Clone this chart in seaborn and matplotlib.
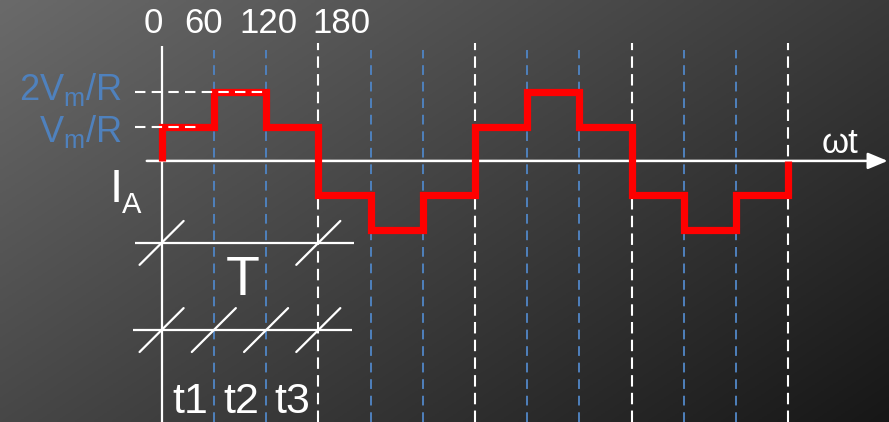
import numpy as np
import matplotlib
matplotlib.use("Agg")
import matplotlib.pyplot as plt
import seaborn as sns

# waveform of phase current I_A (units of Vm/R) vs angle in degrees
angle = [0, 0, 60, 120, 180, 240, 300, 360, 420, 480, 540, 600, 660, 720, 720]
level = [0, 1, 2, 1, -1, -2, -1, 1, 2, 1, -1, -2, -1, -1, 0]

half_cycles = [180, 360, 540, 720]
sixths = [60, 120, 240, 300, 420, 480, 600, 660]
top_labels = ["0", "60", "120", "180"]
y_labels = [r"2V$_{\rm m}$/R", r"V$_{\rm m}$/R"]
t_labels = ["t1", "t2", "t3"]

sns.set_style("dark")
plt.rcParams["font.family"] = ["Liberation Sans", "DejaVu Sans"]
plt.rcParams["mathtext.fontset"] = "custom"
plt.rcParams["mathtext.rm"] = "Liberation Sans"
plt.rcParams["mathtext.it"] = "Liberation Sans"
plt.rcParams["mathtext.default"] = "rm"

WHITE = "white"
BLUE = "#4f81bd"
RED = "#ff0000"

fig = plt.figure(figsize=(8.89, 4.22), dpi=100)
ax = fig.add_axes([0, 0, 1, 1])
x0, x1 = -185.6, 835.5
y0, y1 = -7.61, 4.69
ax.set_xlim(x0, x1)
ax.set_ylim(y0, y1)
ax.axis("off")

# dark diagonal gradient background
xn = np.linspace(0, 1, 300)
yn = np.linspace(0, 1, 150)
XX, YY = np.meshgrid(xn, yn)
g = (106 - 48 * XX - 35 * YY) / 255.0
bg = np.dstack([g, g, g])
ax.imshow(bg, extent=(x0, x1, y0, y1), aspect="auto", zorder=0, origin="upper")

# axes of the sketch
ax.vlines(0, y0, 3.35, color=WHITE, lw=1.6, zorder=2)
ax.annotate("", xy=(834, 0), xytext=(-17, 0),
            arrowprops=dict(arrowstyle="-|>,head_length=1.2,head_width=0.5",
                            color=WHITE, lw=1.8, shrinkA=0, shrinkB=0), zorder=2)

# dashed guides
ax.vlines(half_cycles, y0, 3.44, color=WHITE, lw=1.5, linestyles=[(0, (5.5, 3))], zorder=2)
ax.vlines(sixths, y0, 3.24, color=BLUE, lw=1.4, linestyles=[(0, (5, 3.5))], zorder=2)

# red stepped current
sns.lineplot(x=angle, y=level, ax=ax, color=RED, lw=5.2, sort=False, estimator=None,
             drawstyle="steps-post", zorder=3, solid_joinstyle="miter",
             solid_capstyle="butt")

ax.hlines(2, -30.6, 119, color=WHITE, lw=1.5, linestyles=[(0, (5, 3))], zorder=4)
ax.hlines(1, -30.6, 44, color=WHITE, lw=1.5, linestyles=[(0, (5, 3))], zorder=4)

# labels
for lab, xc in zip(top_labels, [-9.9, 48.7, 122.2, 206]):
    ax.text(xc, 4.01, lab, color=WHITE, fontsize=25, ha="center", va="center")
for lab, yb in zip(y_labels, [1.78, 0.55]):
    ax.text(-45.5, yb, lab, color=BLUE, fontsize=26, ha="right", va="baseline")
ax.text(-60, -1.2, "I", color=WHITE, fontsize=34, ha="left", va="baseline")
ax.text(-46, -1.52, "A", color=WHITE, fontsize=21, ha="left", va="baseline")
ax.text(758.6, 0.23, "ωt", color=WHITE, fontsize=25, ha="left", va="baseline")

# timing bars with slashes
dx, dy = 25.3, 0.64
ax.hlines(-2.39, -30.6, 221, color=WHITE, lw=1.6, zorder=2)
ax.hlines(-4.93, -32.9, 218.7, color=WHITE, lw=1.6, zorder=2)
for xs in [0, 180]:
    ax.plot([xs - dx, xs + dx], [-2.39 - dy, -2.39 + dy], color=WHITE, lw=1.6, zorder=2)
for xs in [0, 60, 120, 180]:
    ax.plot([xs - dx, xs + dx], [-4.93 - dy, -4.93 + dy], color=WHITE, lw=1.6, zorder=2)
ax.text(93.5, -3.5, "T", color=WHITE, fontsize=40, ha="center", va="center")
for lab, xc in zip(t_labels, [32.6, 91.2, 149.8]):
    ax.text(xc, -7.35, lab, color=WHITE, fontsize=31, ha="center", va="baseline")

fig.savefig("out.png", dpi=100)
